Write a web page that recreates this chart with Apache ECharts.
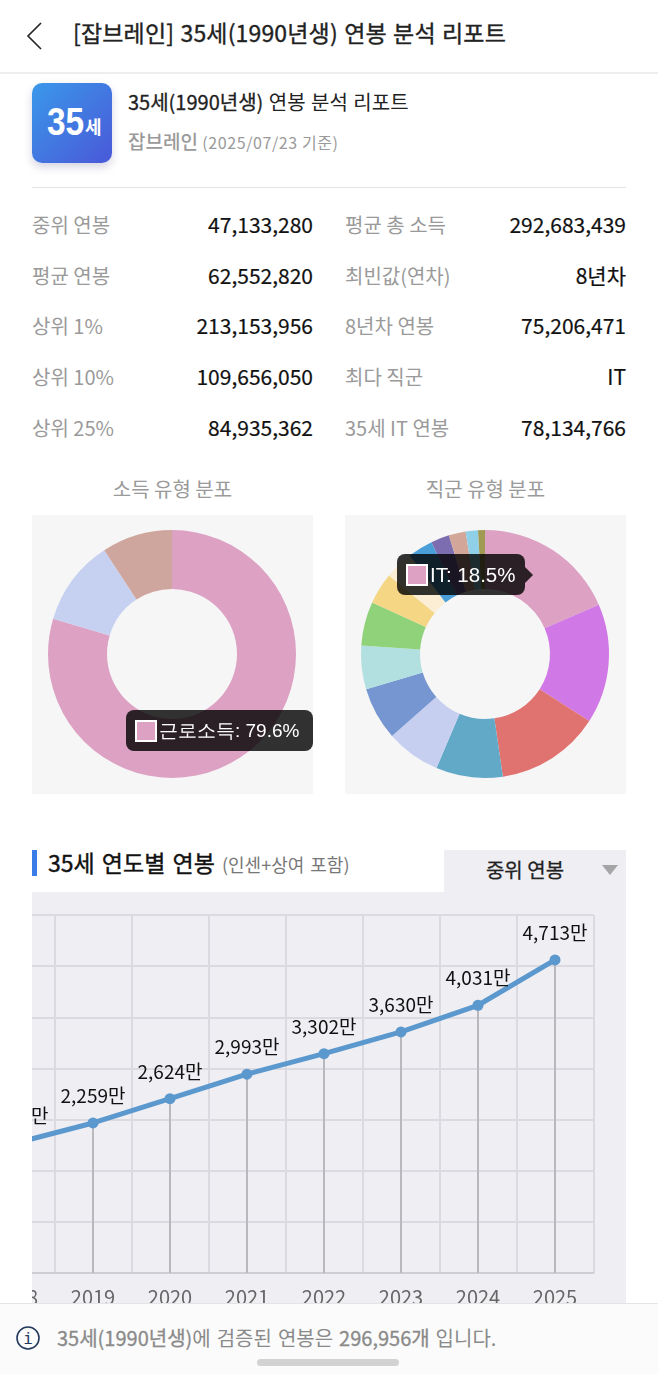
<!DOCTYPE html>
<html>
<head>
<meta charset="utf-8"/>
<title>35세(1990년생) 연봉 분석 리포트</title>
<script src="https://cdn.jsdelivr.net/npm/echarts@6/dist/echarts.min.js"></script>
<style>
	html,body{margin:0;padding:0;background:#fff;}
	body{position:relative;width:658px;height:1374px;overflow:hidden;font-family:"Noto Sans CJK KR","Noto Sans",sans-serif;color:#111;}
	.abs{position:absolute;white-space:nowrap;}
	.line{position:absolute;}
	.row-label{position:absolute;font-size:20px;line-height:28px;color:#9a9a9a;white-space:nowrap;}
	.row-value{position:absolute;font-size:21px;line-height:28px;color:#111;text-align:right;width:200px;white-space:nowrap;-webkit-text-stroke:.2px #111;margin-top:-1px;}
	.pie-title{position:absolute;width:281px;text-align:center;font-size:20px;line-height:28px;color:#9a9a9a;}
	.pie-box{position:absolute;top:515px;width:281px;height:279px;background:#f6f6f6;}
	#badge{position:absolute;left:32px;top:83px;width:80px;height:80px;border-radius:10px;background:linear-gradient(135deg,#3a98ea,#4a58d8);box-shadow:0 4px 8px rgba(60,60,120,.22);color:#fff;font-weight:700;}
	#line-clip{position:absolute;left:32px;top:892px;width:594px;height:411px;overflow:hidden;background:#eeeef3;}
	#line-chart{position:absolute;left:-72px;top:0;width:666px;height:440px;}
	#footer{position:absolute;left:0;top:1303px;width:658px;height:71px;background:#fbfbfb;border-top:1px solid #e4e4e4;box-sizing:border-box;}
</style>
</head>
<body>
	<!-- 상단 헤더 -->
	<svg class="abs" style="left:25px;top:21px;" width="20" height="30"><path d="M16 2 L3 15 L16 28" fill="none" stroke="#222" stroke-width="1.6"/></svg>
	<div class="abs" style="left:73px;top:14px;font-size:23px;line-height:36px;color:#222;letter-spacing:.16px;word-spacing:1px;-webkit-text-stroke:.35px #222;">[잡브레인] 35세(1990년생) 연봉 분석 리포트</div>
	<div class="line" style="left:0;top:72px;width:658px;height:2px;background:#eeeeee;"></div>

	<div id="badge"><span style="position:absolute;left:15px;top:14px;font-family:'Liberation Sans';font-size:38px;line-height:50px;transform:scaleX(.88);transform-origin:0 50%;">35</span><span style="position:absolute;left:53px;top:28px;font-size:18px;line-height:30px;">세</span></div>
	<div class="abs" style="left:128px;top:88px;font-size:20px;line-height:28px;color:#222;word-spacing:1px;"><span style="-webkit-text-stroke:.3px #222;">35세(1990년생)</span> 연봉 분석 리포트</div>
	<div class="abs" style="left:128px;top:127px;font-size:19px;line-height:28px;color:#9a9a9a;font-weight:500;">잡브레인 <span style="font-size:16px;font-weight:400;letter-spacing:.6px;">(2025/07/23 기준)</span></div>
	<div class="line" style="left:32px;top:187px;width:594px;height:1px;background:#e2e2e2;"></div>

	<div id="table"></div>

	<div class="pie-title" style="left:32px;top:475px;">소득 유형 분포</div>
	<div class="pie-title" style="left:345px;top:475px;">직군 유형 분포</div>
	<div class="pie-box" id="pie-income" style="left:32px;"></div>
	<div class="pie-box" id="pie-job" style="left:345px;"></div>

	<!-- 연도별 연봉 -->
	<div class="line" style="left:32px;top:850px;width:5px;height:26px;background:#3b7de8;"></div>
	<div class="abs" style="left:48px;top:845px;font-size:23px;line-height:34px;color:#111;word-spacing:2px;-webkit-text-stroke:.4px #111;">35세 연도별 연봉 <span style="font-size:18px;color:#777;word-spacing:2px;-webkit-text-stroke:0;">(인센+상여 포함)</span></div>
	<div class="line" style="left:444px;top:850px;width:182px;height:42px;background:#eeeef3;"></div>
	<div class="abs" style="left:444px;top:855px;width:162px;text-align:center;font-size:20px;line-height:30px;color:#222;-webkit-text-stroke:.3px #222;">중위 연봉</div>
	<svg class="abs" style="left:602px;top:865px;" width="18" height="11"><path d="M0 0 L16 0 L8 10 Z" fill="#a5a5a8"/></svg>

	<div id="line-clip"><div id="line-chart"></div></div>

	<!-- 하단 안내 -->
	<div id="footer">
		<svg class="abs" style="left:15px;top:21px;" width="26" height="26"><circle cx="13" cy="13" r="11" fill="none" stroke="#24395e" stroke-width="1.6"/><text x="13" y="19" text-anchor="middle" font-size="16" font-family="DejaVu Sans Mono" fill="#24395e">i</text></svg>
		<div class="abs" style="left:57px;top:19px;font-size:20px;line-height:30px;color:#8a8a8a;word-spacing:1.5px;"><span style="-webkit-text-stroke:.3px #8a8a8a;">35세(1990년생)</span>에 검증된 연봉은 <span style="-webkit-text-stroke:.3px #8a8a8a;">296,956개</span> 입니다.</div>
		<div class="line" style="left:257px;top:55px;width:142px;height:7px;border-radius:4px;background:#d2d2d2;"></div>
	</div>

<script type="text/javascript">
	// 요약 표
	var left_labels = ['중위 연봉','평균 연봉','상위 1%','상위 10%','상위 25%'];
	var left_values = ['47,133,280','62,552,820','213,153,956','109,656,050','84,935,362'];
	var right_labels = ['평균 총 소득','최빈값(연차)','8년차 연봉','최다 직군','35세 IT 연봉'];
	var right_values = ['292,683,439','8년차','75,206,471','IT','78,134,766'];
	var row_tops = [211,262,312,363,414];

	// 소득 유형 분포
	var income_names = ['근로소득','',''];
	var income_shares = [79.6,11.2,9.2];
	var income_colors = ['#dca1c3','#c6d0f0','#cfa69d'];

	// 직군 유형 분포
	var job_names = ['IT','','','','','','','','','','','','','',''];
	var job_shares = [18.5,15.6,13.6,8.7,7.1,6.9,5.7,5.7,4.1,3.7,3.3,2.4,2.2,1.6,0.9];
	var job_colors = ['#dca1c3','#cf78e6','#e07270','#62a9c8','#c6cff0','#7596d0','#b2dfe0','#8fd27a','#f5d684','#fbeed4','#4a9fd8','#7c6cb0','#d2a79a','#8fd0e8','#a09a55'];

	// 연도별 연봉 (만원)
	var years = ['2018','2019','2020','2021','2022','2023','2024','2025'];
	var salaries = [1957,2259,2624,2993,3302,3630,4031,4713];

	var html = '';
	for(var i=0;i<row_tops.length;i++){
		html += '<div class="row-label" style="left:32px;top:'+row_tops[i]+'px;">'+left_labels[i]+'</div>';
		html += '<div class="row-value" style="left:113px;top:'+row_tops[i]+'px;">'+left_values[i]+'</div>';
		html += '<div class="row-label" style="left:345px;top:'+row_tops[i]+'px;">'+right_labels[i]+'</div>';
		html += '<div class="row-value" style="left:426px;top:'+row_tops[i]+'px;">'+right_values[i]+'</div>';
	}
	document.getElementById('table').innerHTML = html;

	function tipHtml(name,share,color,width,fontSize,arrow){
		var s = '<div style="display:flex;align-items:center;box-sizing:border-box;width:'+width+'px;height:41px;padding:0 0 0 9px;font-size:'+fontSize+'px;color:#fff;">'
			+ '<span style="display:inline-block;width:18px;height:18px;border:2px solid #fff;background:'+color+';margin-right:2px;"></span>'
			+ name+': '+share+'%</div>';
		if(arrow){
			s += '<div style="position:absolute;left:100%;top:13px;width:0;height:0;border-top:8px solid transparent;border-bottom:8px solid transparent;border-left:8px solid rgba(0,0,0,.8);"></div>';
		}
		return s;
	}

	// 도넛 그리기
	function drawPie(id,names,shares,colors,tipPos,tipWidth,tipFont,arrow){
		var chart = echarts.init(document.getElementById(id));
		var data = [];
		for(var i=0;i<shares.length;i++){
			data.push({name:names[i],value:shares[i],itemStyle:{color:colors[i]}});
		}
		chart.setOption({
			animation:false,
			tooltip:{
				trigger:'item',
				alwaysShowContent:true,
				transitionDuration:0,
				position:tipPos,
				padding:0,
				borderWidth:0,
				backgroundColor:'rgba(0,0,0,0.8)',
				extraCssText:'border-radius:8px;box-shadow:none;',
				formatter:function(p){
					return tipHtml(p.name,p.value,p.color,tipWidth,tipFont,arrow);
				}
			},
			series:[{
				type:'pie',
				center:[140,139],
				radius:[65,124],
				startAngle:90,
				clockwise:true,
				label:{show:false},
				labelLine:{show:false},
				emphasis:{disabled:true},
				data:data
			}]
		});
		chart.dispatchAction({type:'showTip',seriesIndex:0,dataIndex:0});
	}
	drawPie('pie-income',income_names,income_shares,income_colors,[94,195],187,19,false);
	drawPie('pie-job',job_names,job_shares,job_colors,[52,39],128,20.5,true);

	// 연도별 라인
	var line_chart = echarts.init(document.getElementById('line-chart'));
	line_chart.setOption({
		animation:false,
		grid:{left:17.5,top:23,width:616,height:358},
		xAxis:{
			type:'category',
			data:years,
			boundaryGap:true,
			axisLine:{lineStyle:{color:'#cdcdd3',width:2}},
			axisTick:{show:false},
			axisLabel:{color:'#666',fontSize:20,margin:14,fontFamily:'Noto Sans CJK KR',interval:0},
			splitLine:{show:true,interval:0,lineStyle:{color:'#dadae0',width:2}}
		},
		yAxis:{
			type:'value',
			min:0,
			max:5390,
			interval:770,
			axisLine:{show:false},
			axisTick:{show:false},
			axisLabel:{show:false},
			splitLine:{show:true,lineStyle:{color:'#dadae0',width:2}}
		},
		series:[{
			type:'bar',
			data:salaries,
			barWidth:2,
			itemStyle:{color:'#b8b8bd'},
			silent:true
		},{
			type:'line',
			data:salaries,
			symbol:'circle',
			symbolSize:11,
			lineStyle:{color:'#5b98cd',width:5},
			itemStyle:{color:'#5b98cd'},
			label:{
				show:true,
				position:'top',
				distance:12,
				color:'#111',
				fontSize:19,
				fontFamily:'Noto Sans CJK KR',
				formatter:function(p){
					return p.value.toLocaleString('en-US')+'만';
				}
			}
		}]
	});
</script>
</body>
</html>
